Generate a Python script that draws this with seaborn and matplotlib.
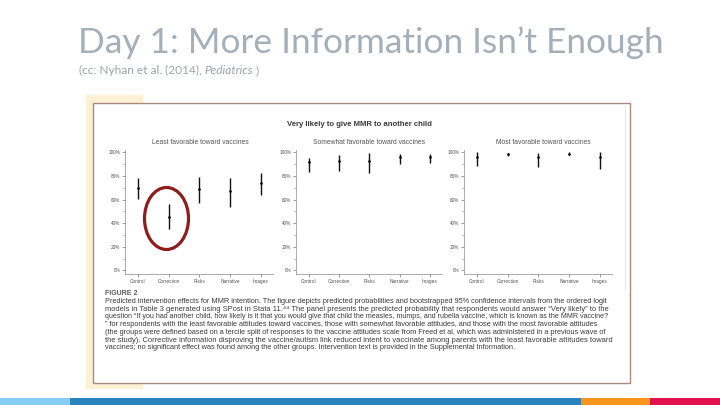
import numpy as np
import pandas as pd
import matplotlib
matplotlib.use("Agg")
import matplotlib.pyplot as plt
from matplotlib.patches import Rectangle, Ellipse
from matplotlib.ticker import MultipleLocator, FuncFormatter
import seaborn as sns

# ---------------- data ----------------
categories = ["Control", "Correction", "Risks", "Narrative", "Images"]
panel_titles = ["Least favorable toward vaccines",
                "Somewhat favorable toward vaccines",
                "Most favorable toward vaccines"]
least_pt = [69.8, 45.4, 69.0, 67.0, 74.0]
least_lo = [60.3, 35.3, 57.5, 54.0, 64.0]
least_hi = [78.4, 56.3, 79.0, 78.0, 82.8]
some_pt = [92.0, 92.5, 92.8, 96.3, 95.7]
some_lo = [83.6, 84.2, 82.8, 90.5, 91.4]
some_hi = [95.4, 97.7, 99.4, 99.0, 98.3]
most_pt = [96.3, 98.3, 95.7, 99.0, 95.7]
most_lo = [88.5, 97.1, 87.4, 97.7, 86.2]
most_hi = [100.0, 99.4, 99.4, 100.0, 100.0]
y_ticks = [0, 20, 40, 60, 80, 100]

slide_title = "Day 1: More Information Isn\u2019t Enough"
subtitle_a = "(cc: Nyhan et al. (2014), "
subtitle_b = "Pediatrics"
subtitle_c = " )"
figure_title = "Very likely to give MMR to another child"
caption_head = "FIGURE 2"
caption_lines = [
    "Predicted intervention effects for MMR intention. The figure depicts predicted probabilities and bootstrapped 95% confidence intervals from the ordered logit",
    "models in Table 3 generated using SPost in Stata 11.\u2074\u2074 The panel presents the predicted probability that respondents would answer \u201cVery likely\u201d to the",
    "question \u201cIf you had another child, how likely is it that you would give that child the measles, mumps, and rubella vaccine, which is known as the MMR vaccine?",
    "\u201d for respondents with the least favorable attitudes toward vaccines, those with somewhat favorable attitudes, and those with the most favorable attitudes",
    "(the groups were defined based on a tercile split of responses to the vaccine attitudes scale from Freed et al, which was administered in a previous wave of",
    "the study). Corrective information disproving the vaccine/autism link reduced intent to vaccinate among parents with the least favorable attitudes toward",
    "vaccines; no significant effect was found among the other groups. Intervention text is provided in the Supplemental Information.",
]

panels = [(least_pt, least_lo, least_hi),
          (some_pt, some_lo, some_hi),
          (most_pt, most_lo, most_hi)]

# ---------------- layout ----------------
sns.set_style("white")
plt.rcParams['font.family'] = ['Liberation Sans', 'DejaVu Sans']

W, H = 720, 405
fig = plt.figure(figsize=(7.2, 4.05), dpi=100)
fig.patch.set_facecolor("white")
renderer = fig.canvas.get_renderer()


def fx(x):
    return x / W


def fy(y):
    return 1 - y / H


def measure(s, fs, **kw):
    t = fig.text(0.5, 0.5, s, fontsize=fs, **kw)
    w = t.get_window_extent(renderer).width
    t.remove()
    return w


def fit_size(s, target, lo=2.0, hi=40.0, **kw):
    for _ in range(22):
        mid = 0.5 * (lo + hi)
        if measure(s, mid, **kw) > target:
            hi = mid
        else:
            lo = mid
    return lo


# yellow shadow + framed image
fig.patches.append(Rectangle((fx(86), fy(389)), fx(143) - fx(86), fy(95) - fy(389),
                             transform=fig.transFigure, facecolor="#fdf0d4",
                             edgecolor="none", zorder=0))
fig.patches.append(Rectangle((fx(93), fy(383)), fx(630) - fx(93), fy(103) - fy(383),
                             transform=fig.transFigure, facecolor="white",
                             edgecolor="#a88a7e", linewidth=1.0, zorder=1))
fig.lines.append(plt.Line2D([fx(625), fx(625)], [fy(106), fy(290)],
                            transform=fig.transFigure, color="#e4e4e4", lw=0.6, zorder=2))

# bottom colour strip
for x0, x1, c in [(0, 70, "#86ccf5"), (70, 581, "#2b83bd"),
                  (581, 650, "#f7951d"), (650, 720, "#e2124f")]:
    fig.patches.append(Rectangle((fx(x0), 0), fx(x1) - fx(x0), fy(398),
                                 transform=fig.transFigure, facecolor=c,
                                 edgecolor="none", zorder=1))

# slide title (fit to reference width)
title_kw = dict(family=["Lato", "DejaVu Sans"], fontweight="normal")
title_fs = fit_size(slide_title, 586, 10, 40, **title_kw)
fig.text(fx(78), fy(53), slide_title, fontsize=title_fs, color="#a5afb9",
         va="baseline", ha="left", **title_kw)

sub_fs = 8.6
sub_col = "#9aa3ac"
ta = fig.text(fx(79), fy(74), subtitle_a, fontsize=sub_fs, color=sub_col,
              family=["Lato", "DejaVu Sans"], va="baseline")
wa = ta.get_window_extent(renderer).width
tb = fig.text(fx(79 + wa), fy(74), subtitle_b, fontsize=sub_fs, color=sub_col,
              family=["Lato", "DejaVu Sans"], style="italic", va="baseline")
wb = tb.get_window_extent(renderer).width
fig.text(fx(79 + wa + wb), fy(74), subtitle_c, fontsize=sub_fs, color=sub_col,
         family=["Lato", "DejaVu Sans"], va="baseline")

# inner figure title
fig.text(fx(359), fy(125), figure_title, fontsize=5.6, fontweight="bold",
         color="#3a3a3a", ha="center", va="center", zorder=5)

axes_px = [(125, 273), (296, 442), (464, 612)]
title_x = [200, 369, 543]
for (x0, x1), (pt, lo, hi), ttl, tx in zip(axes_px, panels, panel_titles, title_x):
    ax = fig.add_axes([fx(x0), fy(274), fx(x1) - fx(x0), fy(150) - fy(274)], zorder=4)
    ax.set_facecolor("none")
    df = pd.DataFrame({"cat": categories, "pt": pt, "lo": lo, "hi": hi})
    pos = np.arange(len(categories))
    ax.vlines(pos, df["lo"], df["hi"], color="#111111", lw=1.0, zorder=3)
    sns.scatterplot(x=pos, y=df["pt"], ax=ax, color="black", s=3.5,
                    marker="o", linewidth=0, zorder=4, legend=False)
    ax.set_xlim(-0.42, 4.4)
    ax.set_ylim(-3, 102)
    ax.set_xticks(pos)
    ax.set_xticklabels(categories)
    ax.set_yticks(y_ticks)
    ax.yaxis.set_major_formatter(FuncFormatter(lambda v, p: f"{int(v)}%"))
    ax.yaxis.set_minor_locator(MultipleLocator(10))
    ax.set_xlabel("")
    ax.set_ylabel("")
    for s in ["top", "right"]:
        ax.spines[s].set_visible(False)
    for s in ["left", "bottom"]:
        ax.spines[s].set_color("#8a8a8a")
        ax.spines[s].set_linewidth(0.5)
    ax.tick_params(axis="both", which="major", labelsize=3.4, colors="#555555",
                   length=2, width=0.4, pad=1.5, left=True, bottom=True)
    ax.tick_params(axis="y", which="minor", length=1.2, width=0.4, colors="#888888", left=True)
    fig.text(fx(tx), fy(143), ttl, fontsize=4.9, color="#555555",
             ha="center", va="center", zorder=5)

# red hand-drawn circle
fig.patches.append(Ellipse((fx(166.5), fy(218.5)), fx(44), 62 / H, angle=0,
                           transform=fig.transFigure, facecolor="none",
                           edgecolor="#8e1d1d", linewidth=2.3, zorder=6))

# caption: each full line fitted to the justified column width
fig.text(fx(105), fy(295), caption_head, fontsize=5.0, fontweight="bold",
         color="#5a5a5a", va="baseline", zorder=5)
left, right = 105, 613
line_y0, line_dy = 303, 7.7
sizes = [fit_size(line, right - left, 3.5, 7.5) for line in caption_lines[:-1]]
last_fs = float(np.median(sizes))
sizes.append(last_fs)
for i, (line, fs) in enumerate(zip(caption_lines, sizes)):
    fig.text(fx(left), fy(line_y0 + i * line_dy), line, fontsize=fs,
             color="#3c3c3c", va="baseline", ha="left", zorder=5)

fig.savefig("out.png", dpi=100, facecolor="white")
